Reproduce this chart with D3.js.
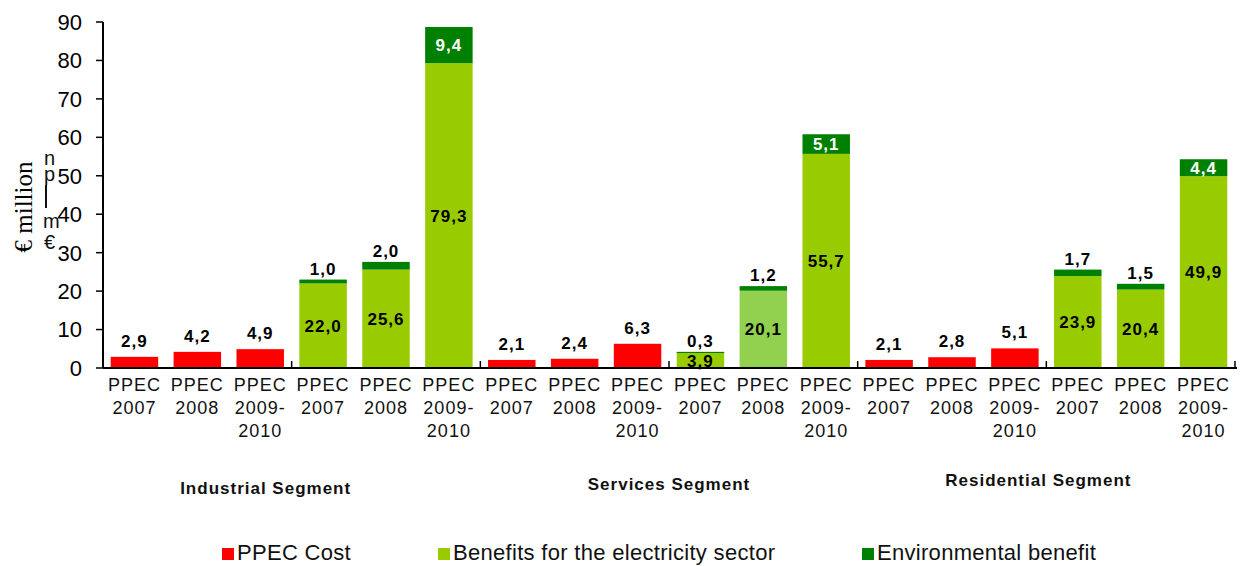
<!DOCTYPE html>
<html>
<head>
<meta charset="utf-8">
<script src="https://cdn.jsdelivr.net/npm/d3@7"></script>
<style>
  body { margin: 0; background: #fff; }
  svg { display: block; font-family: "Liberation Sans", Arial, sans-serif; }
</style>
</head>
<body>
<svg id="chart" width="1241" height="566"></svg>
<script>
// DATA
const segments = ["Industrial Segment", "Services Segment", "Residential Segment"];
const programs = [["PPEC", "2007"], ["PPEC", "2008"], ["PPEC", "2009-", "2010"]];
const ppecCost = [[2.9, 4.2, 4.9], [2.1, 2.4, 6.3], [2.1, 2.8, 5.1]];
const sectorBenefit = [[22.0, 25.6, 79.3], [3.9, 20.1, 55.7], [23.9, 20.4, 49.9]];
const envBenefit = [[1.0, 2.0, 9.4], [0.3, 1.2, 5.1], [1.7, 1.5, 4.4]];
const yTicks = [0, 10, 20, 30, 40, 50, 60, 70, 80, 90];
const legendLabels = ["PPEC Cost", "Benefits for the electricity sector", "Environmental benefit"];

const RED = "#ff0000", GREEN = "#99cc00", LIGHT = "#92d050", DARK = "#008000";
const fmt = v => v.toFixed(1).replace(".", ",");

// build the 18 categories: per segment, 3 cost bars then 3 benefit bars
let cats = [];
segments.forEach((seg, s) => {
  programs.forEach((p, i) => cats.push({id: s + "-c-" + i, seg: s, prog: i, kind: "cost", label: p}));
  programs.forEach((p, i) => cats.push({id: s + "-b-" + i, seg: s, prog: i, kind: "benefit", label: p}));
});

const svg = d3.select("#chart");
const plotLeft = 103, plotRight = 1235, plotTop = 22, base = 368;

const x = d3.scaleBand()
  .domain(cats.map(d => d.id))
  .range([plotLeft, plotRight])
  .paddingInner(0.245)
  .paddingOuter(0.1225);

const y = d3.scaleLinear().domain([0, 90]).range([base, plotTop]);

// y axis
const yAxis = svg.append("g");
yAxis.append("line")
  .attr("x1", plotLeft).attr("x2", plotLeft).attr("y1", y(90)).attr("y2", base)
  .attr("stroke", "#000").attr("stroke-width", 2);
yAxis.selectAll(".tk").data(yTicks).join("line")
  .attr("class", "tk")
  .attr("x1", plotLeft - 7).attr("x2", plotLeft).attr("y1", d => y(d)).attr("y2", d => y(d))
  .attr("stroke", "#000").attr("stroke-width", 1.5);
yAxis.selectAll("text").data(yTicks).join("text")
  .attr("x", 82).attr("y", d => y(d)).attr("dy", "0.36em")
  .attr("text-anchor", "end").attr("font-size", 22)
  .text(d => d);

// y title (and the stray glyphs next to it)
svg.append("text")
  .attr("transform", "translate(32,207) rotate(-90)")
  .attr("text-anchor", "middle")
  .attr("font-family", "Liberation Serif, Times New Roman, serif")
  .attr("font-size", 25)
  .text("€ million");
const stray = svg.append("text").attr("font-size", 20).attr("fill", "#111");
stray.append("tspan").attr("x", 44).attr("y", 165).text("n");
stray.append("tspan").attr("x", 44).attr("y", 181).text("p");
stray.append("tspan").attr("x", 43).attr("y", 228).text("m");
stray.append("tspan").attr("x", 44).attr("y", 249).text("€");
svg.append("line").attr("x1", 46).attr("x2", 46).attr("y1", 185).attr("y2", 208)
  .attr("stroke", "#111").attr("stroke-width", 2);

// bars
const bars = svg.append("g");
const costCats = cats.filter(d => d.kind === "cost");
const benCats = cats.filter(d => d.kind === "benefit");

bars.selectAll(".cost").data(costCats).join("rect")
  .attr("class", "cost")
  .attr("x", d => x(d.id)).attr("width", x.bandwidth())
  .attr("y", d => y(ppecCost[d.seg][d.prog]))
  .attr("height", d => base - y(ppecCost[d.seg][d.prog]))
  .attr("fill", RED);

bars.selectAll(".ben").data(benCats).join("rect")
  .attr("class", "ben")
  .attr("x", d => x(d.id)).attr("width", x.bandwidth())
  .attr("y", d => y(sectorBenefit[d.seg][d.prog]))
  .attr("height", d => base - y(sectorBenefit[d.seg][d.prog]))
  .attr("fill", d => (d.seg === 1 && d.prog === 1) ? LIGHT : GREEN);

bars.selectAll(".env").data(benCats).join("rect")
  .attr("class", "env")
  .attr("x", d => x(d.id)).attr("width", x.bandwidth())
  .attr("y", d => y(sectorBenefit[d.seg][d.prog] + envBenefit[d.seg][d.prog]))
  .attr("height", d => y(sectorBenefit[d.seg][d.prog]) - y(sectorBenefit[d.seg][d.prog] + envBenefit[d.seg][d.prog]))
  .attr("fill", DARK);

// x axis
svg.append("line")
  .attr("x1", plotLeft).attr("x2", plotRight + 2).attr("y1", base).attr("y2", base)
  .attr("stroke", "#000").attr("stroke-width", 2);
const bounds = d3.range(3, cats.length + 1, 3).map(k => plotLeft + k * x.step());
svg.selectAll(".xt").data(bounds).join("line")
  .attr("class", "xt")
  .attr("x1", d => d).attr("x2", d => d).attr("y1", base - 7).attr("y2", base)
  .attr("stroke", "#000").attr("stroke-width", 1.5);

// category labels
const catLab = svg.append("g").attr("font-size", 18).attr("letter-spacing", 1).attr("fill", "#111");
catLab.selectAll("text").data(cats).join("text")
  .attr("text-anchor", "middle")
  .each(function(d) {
    d3.select(this).selectAll("tspan").data(d.label).join("tspan")
      .attr("x", x(d.id) + x.bandwidth() / 2)
      .attr("y", (t, i) => 391 + i * 23)
      .text(t => t);
  });

// segment labels
svg.append("g").selectAll("text").data(segments).join("text")
  .attr("x", (d, i) => plotLeft + (i * 6 + 3) * x.step() - (i === 0 ? 26 : (i === 2 ? 8 : 0)))
  .attr("y", (d, i) => 494 - i * 4)
  .attr("text-anchor", "middle")
  .attr("font-size", 17).attr("letter-spacing", 1).attr("font-weight", "bold").attr("fill", "#111")
  .text(d => d);

// data labels
const lab = svg.append("g").attr("font-size", 17).attr("font-weight", "bold")
  .attr("letter-spacing", 1).attr("text-anchor", "middle");
const cx = d => x(d.id) + x.bandwidth() / 2;

lab.selectAll(".lc").data(costCats).join("text")
  .attr("class", "lc")
  .attr("x", cx).attr("y", d => y(ppecCost[d.seg][d.prog]) - 10)
  .attr("fill", "#000").text(d => fmt(ppecCost[d.seg][d.prog]));

lab.selectAll(".lb").data(benCats).join("text")
  .attr("class", "lb")
  .attr("x", cx).attr("y", d => y(sectorBenefit[d.seg][d.prog] / 2)).attr("dy", "0.36em")
  .attr("fill", "#000").text(d => fmt(sectorBenefit[d.seg][d.prog]));

lab.selectAll(".le").data(benCats).join("text")
  .attr("class", "le")
  .attr("x", cx)
  .attr("y", d => {
    const b = sectorBenefit[d.seg][d.prog], e = envBenefit[d.seg][d.prog];
    return e > 3 ? y(b + e / 2) + 6 : y(b + e) - 5;
  })
  .attr("fill", d => envBenefit[d.seg][d.prog] > 3 ? "#fff" : "#000")
  .text(d => fmt(envBenefit[d.seg][d.prog]));

// legend
const legendX = [222, 438, 862];
const legendColors = [RED, GREEN, DARK];
const leg = svg.append("g");
leg.selectAll("rect").data(legendLabels).join("rect")
  .attr("x", (d, i) => legendX[i]).attr("y", 548).attr("width", 12).attr("height", 12)
  .attr("fill", (d, i) => legendColors[i]);
leg.selectAll("text").data(legendLabels).join("text")
  .attr("x", (d, i) => legendX[i] + 15).attr("y", 560)
  .attr("font-size", 22).attr("letter-spacing", 0.3).attr("fill", "#111")
  .text(d => d);
</script>
</body>
</html>
